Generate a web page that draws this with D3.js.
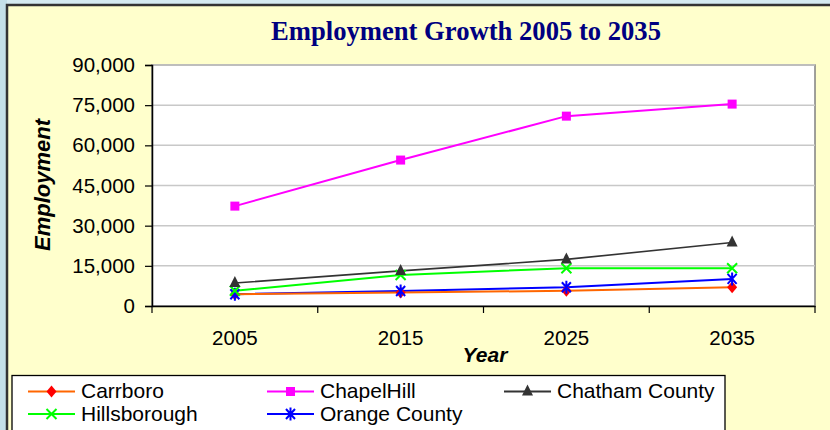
<!DOCTYPE html>
<html><head><meta charset="utf-8">
<script src="https://cdn.jsdelivr.net/npm/d3@7"></script>
<style>body{margin:0;background:#d5eaf0;}svg{display:block;}</style>
</head><body>
<svg id="chart" width="830" height="430"></svg>
<script>
const years = ["2005","2015","2025","2035"];
const yTicks = [0,15000,30000,45000,60000,75000,90000];
const carrboro = [4400, 5000, 5700, 7000];
const chapelHill = [37300, 54500, 70900, 75400];
const chatham = [8600, 13100, 17400, 23700];
const hillsborough = [5700, 11600, 14100, 14100];
const orangeCounty = [4400, 5600, 7000, 10100];
const seriesNames = ["Carrboro","ChapelHill","Chatham County","Hillsborough","Orange County"];
const seriesValues = [carrboro, chapelHill, chatham, hillsborough, orangeCounty];
const lineColors = ["#ff6600","#ff00ff","#333333","#00ff00","#0000ff"];
const markerColors = ["#ff0000","#ff00ff","#333333","#00ff00","#0000ff"];
const markerTypes = ["diamond","square","triangle","x","star"];

const svg = d3.select("#chart");
const W = 830, H = 430;
// panel
svg.append("rect").attr("x",0).attr("y",0).attr("width",W).attr("height",H).attr("fill","#d5eaf0");
svg.append("rect").attr("x",0).attr("y",0).attr("width",7).attr("height",H).attr("fill","#c4e0e8");
svg.append("rect").attr("x",7).attr("y",5).attr("width",W).attr("height",H).attr("fill","#ffffcc")
  .attr("stroke","#333").attr("stroke-width",2.5);

const L=152, R=815, T=65, B=306;
const x = d3.scaleBand().domain(years).range([L,R]);
const y = d3.scaleLinear().domain([0,90000]).range([B,T]);

svg.append("rect").attr("x",L).attr("y",T).attr("width",R-L).attr("height",B-T)
  .attr("fill","#fff").attr("stroke","#808080").attr("stroke-width",1.5);

// gridlines
svg.append("g").selectAll("line").data(yTicks.filter(d=>d>0)).join("line")
  .attr("x1",L).attr("x2",R).attr("y1",d=>y(d)).attr("y2",d=>y(d))
  .attr("stroke","#c8c8c8").attr("stroke-width",1.5);

// y axis
const yAxis = svg.append("g").attr("transform",`translate(${L},0)`)
  .call(d3.axisLeft(y).tickValues(yTicks).tickSize(7).tickPadding(10).tickFormat(d3.format(",")));
yAxis.select(".domain").attr("stroke","#000").attr("stroke-width",1.5);
yAxis.selectAll(".tick line").attr("stroke","#000").attr("stroke-width",1.2);
yAxis.selectAll("text").attr("font-family","Arial, 'Liberation Sans', sans-serif").attr("font-size",20.5).attr("fill","#000");

// x axis
const xAxis = svg.append("g").attr("transform",`translate(0,${B})`)
  .call(d3.axisBottom(x).tickSize(0).tickPadding(24));
xAxis.select(".domain").attr("stroke","#000").attr("stroke-width",1.5);
xAxis.selectAll("text").attr("font-family","Arial, 'Liberation Sans', sans-serif").attr("font-size",20.5).attr("fill","#000");
const bounds = years.map(d=>x(d)).concat([R]);
xAxis.selectAll("line.bt").data(bounds).join("line").attr("class","bt")
  .attr("x1",d=>d).attr("x2",d=>d).attr("y1",0).attr("y2",7).attr("stroke","#000").attr("stroke-width",1.2);

// titles
svg.append("text").attr("x",466).attr("y",40).attr("text-anchor","middle")
  .attr("font-family","'Times New Roman','Liberation Serif',serif").attr("font-weight","bold")
  .attr("font-size",27).attr("fill","#000080").attr("textLength",390).attr("lengthAdjust","spacingAndGlyphs")
  .text("Employment Growth 2005 to 2035");
svg.append("text").attr("transform","translate(50,185) rotate(-90)").attr("text-anchor","middle")
  .attr("font-family","Arial, 'Liberation Sans', sans-serif").attr("font-weight","bold").attr("font-style","italic")
  .attr("font-size",22).text("Employment");
svg.append("text").attr("x",485).attr("y",362).attr("text-anchor","middle")
  .attr("font-family","Arial, 'Liberation Sans', sans-serif").attr("font-weight","bold").attr("font-style","italic")
  .attr("font-size",21).text("Year");

function marker(g, type, color, cx, cy){
  if(type==="diamond"){
    g.append("path").attr("d",`M${cx},${cy-6}L${cx+5},${cy}L${cx},${cy+6}L${cx-5},${cy}Z`).attr("fill",color);
  } else if(type==="square"){
    g.append("rect").attr("x",cx-4.5).attr("y",cy-4.5).attr("width",9).attr("height",9).attr("fill",color);
  } else if(type==="triangle"){
    g.append("path").attr("d",`M${cx},${cy-7}L${cx+5.5},${cy+4}L${cx-5.5},${cy+4}Z`).attr("fill",color);
  } else if(type==="x"){
    g.append("path").attr("d",`M${cx-5},${cy-5}L${cx+5},${cy+5}M${cx-5},${cy+5}L${cx+5},${cy-5}`)
      .attr("stroke",color).attr("stroke-width",2);
  } else if(type==="star"){
    g.append("path").attr("d",`M${cx-4.5},${cy-5}L${cx+4.5},${cy+5}M${cx-4.5},${cy+5}L${cx+4.5},${cy-5}M${cx},${cy-6.5}L${cx},${cy+6.5}`)
      .attr("stroke",color).attr("stroke-width",2);
  }
}

// series
const line = d3.line().x((d,i)=>x(years[i])+x.bandwidth()/2).y(d=>y(d));
const order = [2,1,3,4,0];
order.forEach(k=>{
  const g = svg.append("g");
  g.append("path").datum(seriesValues[k]).attr("d",line).attr("fill","none")
    .attr("stroke",lineColors[k]).attr("stroke-width",k===2?1.6:2);
});
order.slice().reverse().forEach(k=>{
  const g = svg.append("g");
  seriesValues[k].forEach((v,i)=>marker(g, markerTypes[k], markerColors[k], x(years[i])+x.bandwidth()/2, y(v)));
});

// legend
svg.append("rect").attr("x",12).attr("y",375.5).attr("width",713).attr("height",70)
  .attr("fill","#fff").attr("stroke","#000").attr("stroke-width",1.3);
const legPos = [[28,391.5],[267,391.5],[504,391.5],[28,414],[267,414]];
seriesNames.forEach((n,k)=>{
  const [lx,ly] = legPos[k];
  const g = svg.append("g");
  g.append("line").attr("x1",lx).attr("x2",lx+47).attr("y1",ly).attr("y2",ly)
    .attr("stroke",lineColors[k]).attr("stroke-width",2);
  marker(g, markerTypes[k], markerColors[k], lx+23.5, ly);
  g.append("text").attr("x",lx+53).attr("y",ly+6.5)
    .attr("font-family","Arial, 'Liberation Sans', sans-serif").attr("font-size",21).text(n);
});
</script>
</body></html>
